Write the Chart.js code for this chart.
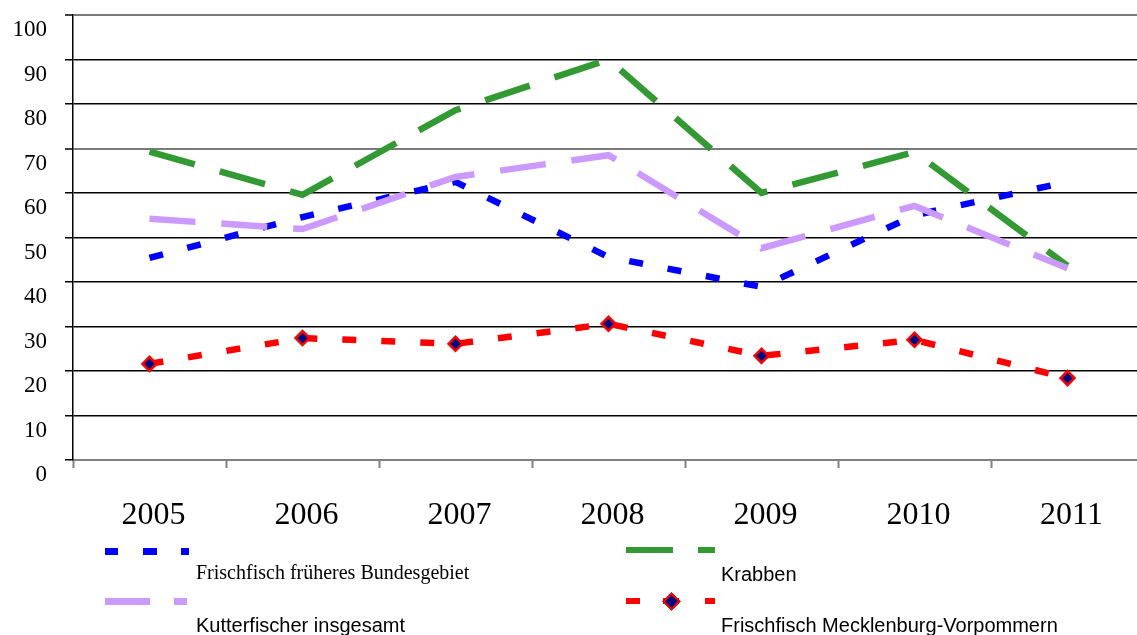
<!DOCTYPE html>
<html><head><meta charset="utf-8">
<script src="https://cdn.jsdelivr.net/npm/chart.js@4/dist/chart.umd.min.js"></script>
<style>
html,body{margin:0;padding:0;background:#fff;overflow:hidden;width:1137px;height:635px;}
#wrap{position:relative;width:1137px;height:635px;overflow:hidden;}
#c{position:absolute;left:0;top:0;}
.seg{position:absolute;}
.dia{position:absolute;width:9px;height:9px;background:#000080;border:2px solid #ff0000;transform:rotate(45deg);}
.t{position:absolute;font-size:20px;line-height:20px;color:#000;white-space:nowrap;}
.serif{font-family:"Liberation Serif","Times New Roman",serif;}
.sans{font-family:"Liberation Sans",Arial,sans-serif;}
</style></head>
<body><div id="wrap"><canvas id="c" width="1144" height="635"></canvas></div>
<script>
// ---- data ----
const years = ['2005', '2006', '2007', '2008', '2009', '2010', '2011'];
const frischfischWest = [45.4, 54.6, 62.5, 45.6, 38.9, 55.0, 62.5];
const krabben = [69.3, 59.6, 78.6, 90.0, 60.0, 69.2, 43.6];
const kutterInsgesamt = [54.2, 51.9, 63.6, 68.5, 47.6, 57.1, 43.1];
const frischfischMV = [21.6, 27.4, 26.1, 30.6, 23.4, 27.0, 18.4];
const seriesNames = ['Frischfisch früheres Bundesgebiet', 'Krabben', 'Kutterfischer insgesamt', 'Frischfisch Mecklenburg-Vorpommern'];
const yTicks = [0, 10, 20, 30, 40, 50, 60, 70, 80, 90, 100];

const serifFont = '"Liberation Serif", "Times New Roman", serif';

new Chart(document.getElementById('c'), {
  type: 'line',
  data: {
    labels: years,
    datasets: [
      { label: seriesNames[0], data: frischfischWest, borderColor: '#0000ff', borderWidth: 6.5, borderDash: [14, 25], pointRadius: 0, tension: 0, order: 4 },
      { label: seriesNames[1], data: krabben, borderColor: '#339933', borderWidth: 6.5, borderDash: [47, 26], pointRadius: 0, tension: 0, order: 3 },
      { label: seriesNames[2], data: kutterInsgesamt, borderColor: '#cc99ff', borderWidth: 6.5, borderDash: [46, 26], pointRadius: 0, tension: 0, order: 2 },
      { label: seriesNames[3], data: frischfischMV, borderColor: '#ff0000', borderWidth: 6.5, borderDash: [14, 25], tension: 0, order: 1,
        pointStyle: 'rectRot', pointRadius: 7, pointBackgroundColor: '#000080', pointBorderColor: '#ff0000', pointBorderWidth: 2.5 }
    ]
  },
  options: {
    responsive: false,
    animation: false,
    layout: { autoPadding: false, padding: { top: 15, left: 0, right: 0, bottom: 0 } },
    plugins: { legend: { display: false }, tooltip: { enabled: false } },
    scales: {
      x: {
        offset: true,
        afterFit: s => { s.height = 175; s.paddingLeft = 0; s.paddingRight = 0; },
        grid: { offset: true, drawOnChartArea: false, drawTicks: true, tickLength: 8, tickColor: '#808080', tickWidth: 2 },
        border: { display: true, color: '#808080', width: 2 },
        ticks: { color: '#000', font: { family: serifFont, size: 32 }, padding: 28, labelOffset: 4, maxRotation: 0 }
      },
      y: {
        min: 0, max: 100,
        afterFit: s => { s.width = 73; s.paddingTop = 0; s.paddingBottom = 0; },
        afterBuildTicks: s => { s.ticks = yTicks.map(v => ({ value: v })); },
        grid: {
          color: c => (c.tick && (c.tick.value === 100 || c.tick.value === 70)) ? '#7a7a7a' : '#000',
          lineWidth: c => (c.tick && (c.tick.value === 100 || c.tick.value === 70)) ? 2 : 1.5,
          drawTicks: true, tickLength: 8, tickColor: '#000', tickWidth: 1.5
        },
        border: { display: true, color: '#000', width: 1.5 },
        ticks: { color: '#000', font: { family: serifFont, size: 23 }, padding: 18, labelOffset: 15 }
      }
    }
  }
});

// ---- legend (HTML) ----
const wrap = document.getElementById('wrap');
function seg(x0, x1, y0, y1, color) {
  const d = document.createElement('div');
  d.className = 'seg';
  d.style.cssText = `left:${x0}px;top:${y0}px;width:${x1 - x0}px;height:${y1 - y0}px;background:${color}`;
  wrap.appendChild(d);
}
function txt(s, x, y, cls) {
  const d = document.createElement('div');
  d.className = 't ' + cls;
  d.style.left = x + 'px'; d.style.top = y + 'px';
  d.textContent = s;
  wrap.appendChild(d);
}
// Blue
seg(105, 118, 548, 555, '#0000ff'); seg(143, 157, 548, 555, '#0000ff'); seg(181, 189, 548, 555, '#0000ff');
txt(seriesNames[0], 196, 562, 'serif');
// Green
seg(626, 673, 547, 553, '#339933'); seg(698, 715, 547, 553, '#339933');
txt(seriesNames[1], 721, 564, 'sans');
// Violet
seg(105, 150, 598, 605, '#cc99ff'); seg(174, 187, 598, 605, '#cc99ff');
txt(seriesNames[2], 196, 615, 'sans');
// Red
seg(626, 640, 598, 604, '#ff0000'); seg(663, 679, 598, 604, '#ff0000'); seg(705, 715, 598, 604, '#ff0000');
const dia = document.createElement('div'); dia.className = 'dia';
dia.style.left = (671 - 6.5) + 'px'; dia.style.top = (601 - 6.5) + 'px';
wrap.appendChild(dia);
txt(seriesNames[3], 721, 615, 'sans');
</script>
</body></html>
